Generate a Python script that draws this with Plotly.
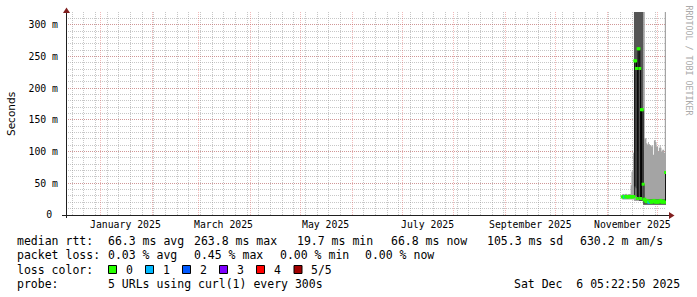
import plotly.graph_objects as go
import pandas as pd

# ---------------- data ----------------
graph_start = "2024-12-11 05:22:50"
graph_end = "2025-12-06 05:22:50"

median_ms = [28.5, 28.7, 28.4, 28.6, 29.0, 28.8, 28.5, 28.3, 28.9, 29.2, 28.7, 28.4, 28.6, 29.0,
             28.8, 243, 243, 231, 26, 262, 262, 231, 26, 166, 166, 48.5,
             24, 25, 22, 21, 23, 21, 20, 22, 21, 20, 22, 21, 23, 21, 20, 22, 21, 20, 22, 21, 23, 21, 20, 22, 21, 20,
             66.8]
loss_level = [0, 0, 0, 1, 0, 0, 0, 0, 0, 0, 0, 0, 0, 0,
              0, 0, 0, 0, 0, 0, 0, 0, 0, 0, 0, 0,
              0, 0, 0, 0, 0, 0, 1, 0, 0, 0, 0, 0, 0, 0, 0, 0, 0, 0, 0, 0, 0, 0, 0, 0, 0, 0,
              0]
light_lo_ms = [24.5, 24.5, 24.5, 24.5, 24.5, 24.5, 24.5, 24.5, 24.5, 24.5, 24.5, 24.5, 24.5, 24.5,
               22, 22, 22, 22, 22, 22, 22, 22, 22, 22, 22,
               16, 16, 16, 16, 16, 16, 16, 16, 16, 16, 16, 16, 16, 16, 16, 16, 16, 16, 16, 16, 16, 16, 16, 16,
               16, 16, 16, 16]
light_hi_ms = [33, 33, 32.5, 33, 33.5, 33, 32, 33, 33, 33,
               47, 68, 70, 98,
               100, 100, 100, 100, 100, 100, 100, 100, 100, 100, 100,
               400, 400,
               121, 121, 113, 111, 115, 112, 110, 110, 108, 110, 95, 118, 118, 115, 108, 108, 100, 106, 110,
               106, 100, 103, 103, 98,
               400, 400]
dark_lo_ms = [27.5, 27.5, 27.5, 27.5, 27.5, 27.5, 27.5, 27.5, 27.5, 27.5, 27.5, 27.5, 27.5, 27.5,
              45, 45, 42, 30, 100, 25, 22, 22, 22, 22, 22,
              16, 16, 16, 16, 16, 16, 16, 16, 16, 16, 16, 16, 16, 16, 16, 16, 16, 16, 16, 16, 16, 16, 16, 16,
              16, 16, 16, 16]
dark_hi_ms = [29.5, 29.5, 29.5, 29.5, 29.5, 29.5, 29.5, 29.5, 29.5, 29.5, 29.5, 29.5, 29.5, 29.5,
              400, 400, 400, 400, 400, 400, 400, 400, 400, 400, 400,
              25, 25, 25, 25, 25, 25, 25, 25, 25, 25, 25, 25, 25, 25, 25, 25, 25, 25, 25, 25, 25, 25, 25, 25,
              25, 25, 25, 25]

loss_colors = ["#26ff00", "#00b8ff", "#0059ff", "#7e00ff", "#ff0000", "#a10000"]
loss_labels = ["0", "1", "2", "3", "4", "5/5"]

y_tick_vals = [0, 0.05, 0.10, 0.15, 0.20, 0.25, 0.30]
y_tick_text = ["0\u00a0", "50 m", "100 m", "150 m", "200 m", "250 m", "300 m"]

month_label_dates = ["2025-01-16", "2025-03-16", "2025-05-16", "2025-07-16", "2025-09-16", "2025-11-16"]
month_labels = ["January 2025", "March 2025", "May 2025", "July 2025", "September 2025", "November 2025"]

legend_rows = [
    [("median rtt:", 15.5), ("66.3 ms avg", 106.5), ("263.8 ms max", 192.5), ("19.7 ms min", 295.5),
     ("66.8 ms now", 389.5), ("105.3 ms sd", 486), ("630.2 m am/s", 578.5)],
    [("packet loss:", 15.5), ("0.03 % avg", 106.5), ("0.45 % max", 192.5), ("0.00 % min", 278.5),
     ("0.00 % now", 364)],
    [("loss color:", 15.5)],
    [("probe:", 15.5), ("5 URLs using curl(1) every 300s", 106.5), ("Sat Dec  6 05:22:50 2025", 512.5)],
]
row_y = [240.5, 255, 269.5, 284]
box_x = [108.5, 145.5, 182.5, 219.5, 256.5, 294]
box_label_x = [124.5, 161.5, 199, 236, 272.5, 309.5]

# ---------------- geometry helpers ----------------
W, H = 697, 297
PL, PR, PT, PB = 66, 666, 12, 215


def px(xp):
    return (xp - PL) / (PR - PL)


def py(yp):
    return (PB - yp) / (PB - PT)


times = list(pd.date_range("2025-11-10 00:00", periods=len(median_ms), freq="12h")) + [pd.Timestamp(graph_end)]


def ext(vals):
    s = [v / 1000.0 for v in vals]
    return s + [s[-1]]


fig = go.Figure()
LIGHT = "#a4a4a4"
DARK = "#555555"

for lo, hi, col in [(light_lo_ms, light_hi_ms, LIGHT), (dark_lo_ms, dark_hi_ms, DARK)]:
    fig.add_trace(go.Scatter(x=times, y=ext(lo), mode="lines", line=dict(width=0, shape="hv"),
                             hoverinfo="skip", showlegend=False))
    fig.add_trace(go.Scatter(x=times, y=ext(hi), mode="lines", line=dict(width=0, shape="hv"),
                             fill="tonexty", fillcolor=col, hoverinfo="skip", showlegend=False))

fig.add_trace(go.Scatter(x=times, y=ext(median_ms), mode="lines",
                         line=dict(width=1, color="#000000", shape="hv"),
                         hoverinfo="skip", showlegend=False))
fig.add_trace(go.Scatter(x=times[:-1], y=[v / 1000.0 for v in median_ms], mode="markers",
                         marker=dict(symbol="square", size=3, color=[loss_colors[l] for l in loss_level],
                                     line=dict(width=0)),
                         hoverinfo="skip", showlegend=False))

GRID = "rgba(143,143,143,0.5)"
MGRID = "rgba(222,79,79,0.4)"
AXIS = "rgb(31,31,31)"
ARROW = "rgb(128,31,31)"
MONO = "DejaVu Sans Mono"

annotations = []
for d, t in zip(month_label_dates, month_labels):
    annotations.append(dict(x=d, xref="x", y=py(224.5), yref="paper", text=t, showarrow=False,
                            xanchor="center", yanchor="middle", borderpad=0,
                            font=dict(family=MONO, size=9.8, color="black")))

for row, yv in zip(legend_rows, row_y):
    for txt, xv in row:
        annotations.append(dict(x=px(xv), xref="paper", y=py(yv), yref="paper",
                                text=txt.replace(" ", "\u00a0"), showarrow=False,
                                xanchor="left", yanchor="middle", borderpad=0,
                                font=dict(family=MONO, size=11.5, color="black")))

for lab, xv in zip(loss_labels, box_label_x):
    annotations.append(dict(x=px(xv), xref="paper", y=py(row_y[2]), yref="paper", text=lab,
                            showarrow=False, xanchor="left", yanchor="middle", borderpad=0,
                            font=dict(family=MONO, size=11.5, color="black")))

annotations.append(dict(x=px(11), xref="paper", y=py(114), yref="paper", text="Seconds", textangle=-90,
                        showarrow=False, xanchor="center", yanchor="middle",
                        font=dict(family="DejaVu Sans", size=10.5, color="black")))
annotations.append(dict(x=px(688.5), xref="paper", y=py(60), yref="paper", text="RRDTOOL / TOBI OETIKER",
                        textangle=90, showarrow=False, xanchor="center", yanchor="middle",
                        font=dict(family=MONO, size=8.3, color="#aaaaaa")))

shapes = []
box_top, box_bot = 265.5, 273.5
for col, xv in zip(loss_colors, box_x):
    shapes.append(dict(type="rect", xref="paper", yref="paper", x0=px(xv), x1=px(xv + 8),
                       y0=py(box_bot), y1=py(box_top), fillcolor=col, line=dict(color="black", width=1)))

# axes
shapes.append(dict(type="line", xref="paper", yref="paper", x0=px(66.5), x1=px(66.5), y0=py(218), y1=py(12),
                   line=dict(color=AXIS, width=1), layer="above"))
shapes.append(dict(type="line", xref="paper", yref="paper", x0=px(62), x1=px(670), y0=py(215.5), y1=py(215.5),
                   line=dict(color=AXIS, width=1), layer="above"))
shapes.append(dict(type="path", xref="paper", yref="paper",
                   path=f"M {px(66.5)} {py(7.5)} L {px(63)} {py(13)} L {px(70)} {py(13)} Z",
                   fillcolor=ARROW, line=dict(width=0), layer="above"))
shapes.append(dict(type="path", xref="paper", yref="paper",
                   path=f"M {px(674.5)} {py(215.5)} L {px(669)} {py(212)} L {px(669)} {py(219)} Z",
                   fillcolor=ARROW, line=dict(width=0), layer="above"))

fig.update_layout(
    width=W, height=H, autosize=False,
    margin=dict(l=PL, r=W - PR, t=PT, b=H - PB, pad=0),
    paper_bgcolor="white", plot_bgcolor="white",
    showlegend=False,
    xaxis=dict(type="date", range=[graph_start, graph_end], tickmode="linear", tick0="2025-01-01",
               dtick="M1", showticklabels=False, ticks="", showgrid=True, gridcolor=MGRID, gridwidth=1,
               griddash="1px,1px", zeroline=False, showline=False, fixedrange=True,
               minor=dict(tick0="2024-12-15", dtick=7 * 86400000, showgrid=True, gridcolor=GRID,
                          gridwidth=1, griddash="1px,1px", ticks="")),
    yaxis=dict(range=[0, 0.32], tickmode="array", tickvals=y_tick_vals, ticktext=y_tick_text,
               showgrid=True, gridcolor=MGRID, gridwidth=1, griddash="1px,1px", zeroline=False,
               showline=False, ticks="", ticklabelstandoff=7, fixedrange=True,
               tickfont=dict(family=MONO, size=9.8, color="black"),
               minor=dict(dtick=0.01, tick0=0, tickmode="linear", showgrid=True, gridcolor=GRID, gridwidth=1,
                          griddash="1px,1px", ticks="")),
    annotations=annotations,
    shapes=shapes,
)

fig.write_html("out.html", config={"displayModeBar": False})
